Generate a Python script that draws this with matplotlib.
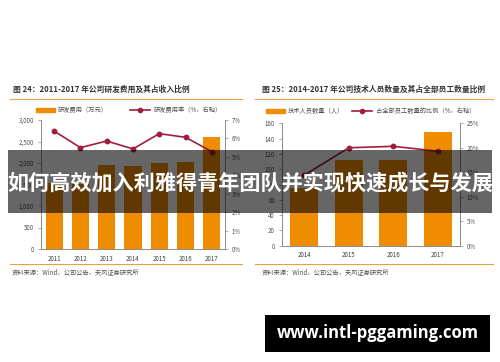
import matplotlib
matplotlib.use("Agg")
import matplotlib.pyplot as plt
from matplotlib.patches import Rectangle
from matplotlib.lines import Line2D

plt.rcParams['font.family'] = ['Noto Sans CJK SC', 'DejaVu Sans']

# ---- data ----
years_l = ["2011", "2012", "2013", "2014", "2015", "2016", "2017"]
rd_cost = [1530, 1505, 1950, 1935, 2005, 2020, 2605]
rd_rate = [6.40, 5.50, 5.86, 5.43, 6.26, 6.06, 5.28]
left_yticks = [0, 500, 1000, 1500, 2000, 2500, 3000]
left_ylabels = ["0", "500", "1,000", "1,500", "2,000", "2,500", "3,000"]
left_rticks = [0, 1, 2, 3, 4, 5, 6, 7]

years_r = ["2014", "2015", "2016", "2017"]
tech_staff = [76, 112, 112, 149]
tech_ratio = [14.4, 20.0, 20.3, 19.3]
right_yticks = [0, 20, 40, 60, 80, 100, 120, 140, 160]
right_rticks = [0, 5, 10, 15, 20, 25]

title_l = "图 24：2011-2017 年公司研发费用及其占收入比例"
title_r = "图 25：2014-2017 年公司技术人员数量及其占全部员工数量比例"
leg_l = ["研发费用（万元）", "研发费用率（%，右轴）"]
leg_r = ["技术人员数量（人）", "占全部员工数量的比例（%，右轴）"]
source = "资料来源：Wind，公司公告，天风证券研究所"
banner = "如何高效加入利雅得青年团队并实现快速成长与发展"
site = "www.intl-pggaming.com"

ORANGE = "#F08C00"
RED = "#A01E3C"
GREY = "#8C8C8C"
TXT = "#404040"

W, H = 500, 362
fig = plt.figure(figsize=(W / 100, H / 100), dpi=100)
fig.patch.set_facecolor("white")

def fx(px):
    return px / W

def fy(py):
    return 1 - py / H

def style_axes(ax, ax2):
    for a in (ax, ax2):
        a.spines['top'].set_visible(False)
        for s in ('left', 'right', 'bottom'):
            a.spines[s].set_color(GREY)
            a.spines[s].set_linewidth(0.6)
        a.tick_params(labelsize=4.4, colors=TXT, length=2, width=0.5, pad=3)
        for lbl in a.get_yticklabels():
            lbl.set_color("#505050")
    ax.tick_params(axis='x', length=0, pad=4)
    ax.tick_params(axis='y', color=GREY)
    ax2.tick_params(axis='y', color=GREY)

# ---- left chart ----
axL = fig.add_axes([fx(41), fy(249), fx(225 - 41), (249 - 120) / H])
xl = list(range(len(years_l)))
axL.bar(xl, rd_cost, width=0.65, color=ORANGE, zorder=2)
axL.set_xlim(-0.5, len(years_l) - 0.5)
axL.set_ylim(0, 3000)
axL.set_yticks(left_yticks)
axL.set_yticklabels(left_ylabels)
axL.set_xticks(xl)
axL.set_xticklabels(years_l)
axL2 = axL.twinx()
axL2.plot(xl, rd_rate, color=RED, lw=1.2, marker='o', ms=3.2, zorder=3)
axL2.set_ylim(0, 7)
axL2.set_yticks(left_rticks)
axL2.set_yticklabels([f"{v}%" for v in left_rticks])
style_axes(axL, axL2)

# ---- right chart ----
axR = fig.add_axes([fx(282), fy(245.7), fx(460 - 282), (245.7 - 123.3) / H])
xr = list(range(len(years_r)))
axR.bar(xr, tech_staff, width=0.63, color=ORANGE, zorder=2)
axR.set_xlim(-0.5, len(years_r) - 0.5)
axR.set_ylim(0, 160)
axR.set_yticks(right_yticks)
axR.set_xticks(xr)
axR.set_xticklabels(years_r)
axR2 = axR.twinx()
axR2.plot(xr, tech_ratio, color=RED, lw=1.2, marker='o', ms=3.2, zorder=3)
axR2.set_ylim(0, 25)
axR2.set_yticks(right_rticks)
axR2.set_yticklabels([f"{v}%" for v in right_rticks])
style_axes(axR, axR2)

# ---- titles, rules, legends, sources ----
fig.text(fx(13), fy(89), title_l, fontsize=5.6, fontweight='bold', color="#333333", va='center')
fig.text(fx(262), fy(89), title_r, fontsize=5.6, fontweight='bold', color="#333333", va='center')
for x0, x1 in ((10, 242), (255, 493)):
    fig.add_artist(Line2D([fx(x0), fx(x1)], [fy(99), fy(99)], color="#E8A040", lw=0.8))
    fig.add_artist(Line2D([fx(x0), fx(x1)], [fy(263.5), fy(263.5)], color="#E8A040", lw=0.8))

def legend_at(x_rect, x_line, y, labels):
    fig.add_artist(Rectangle((fx(x_rect), fy(y + 2)), fx(19), 4 / H, transform=fig.transFigure,
                             color=ORANGE))
    fig.text(fx(x_rect + 22), fy(y), labels[0], fontsize=4.5, color="#505050", va='center')
    fig.add_artist(Line2D([fx(x_line), fx(x_line + 20)], [fy(y), fy(y)], color=RED, lw=1.2,
                          transform=fig.transFigure))
    fig.add_artist(Line2D([fx(x_line + 10)], [fy(y)], color=RED, marker='o', ms=3,
                          transform=fig.transFigure))
    fig.text(fx(x_line + 24), fy(y), labels[1], fontsize=4.5, color="#505050", va='center')

legend_at(36, 130, 110, leg_l)
legend_at(266, 352, 111, leg_r)

fig.text(fx(12), fy(272.5), source, fontsize=4.5, color="#505050", va='center')
fig.text(fx(262), fy(272.5), source, fontsize=4.5, color="#505050", va='center')

# ---- banner overlay ----
fig.add_artist(Rectangle((fx(8), fy(213)), fx(484), 63 / H, transform=fig.transFigure,
                         color="black", alpha=0.6, zorder=10, lw=0))
fig.text(0.5, fy(183), banner, fontsize=15.2, fontweight='bold', color="white",
         ha='center', va='center', zorder=11)

# ---- website box ----
fig.add_artist(Rectangle((fx(265), fy(352)), fx(225), 37 / H, transform=fig.transFigure,
                         color="black", zorder=10, lw=0))
fig.text(fx(377.5), fy(333.5), site, fontsize=12, fontweight='bold', color="white",
         ha='center', va='center', zorder=11, family=['Open Sans', 'DejaVu Sans'])

fig.savefig("out.png", dpi=100, facecolor="white")
